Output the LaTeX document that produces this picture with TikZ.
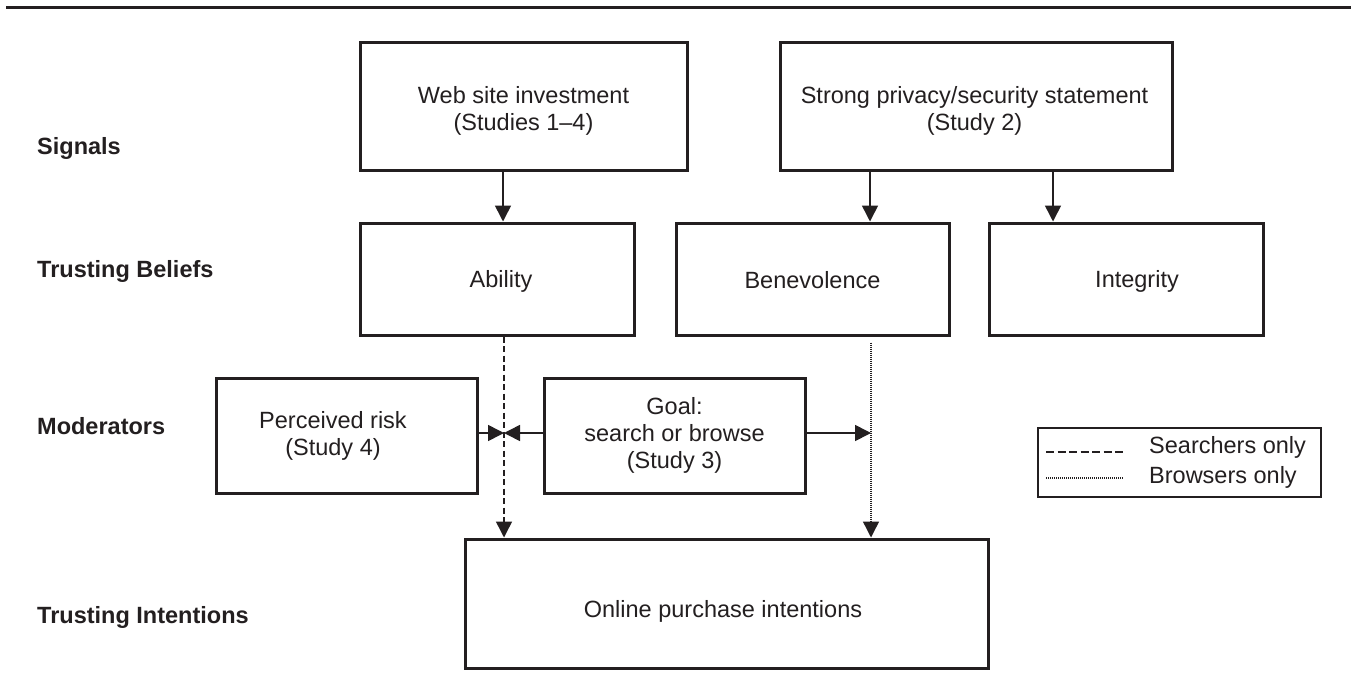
\documentclass[tikz,border=0pt]{standalone}
\usepackage{fontspec}
\setmainfont{Liberation Sans}
\usetikzlibrary{arrows.meta}
\definecolor{ink}{RGB}{35,31,32}
\begin{document}
\begin{tikzpicture}[x=1pt,y=-1pt,
  every node/.style={text=ink, font=\fontsize{23.5}{27}\selectfont},
  box/.style={draw=ink, line width=3pt, rectangle, inner sep=0pt, align=center},
  lab/.style={font=\fontsize{23.5}{27}\selectfont\bfseries, anchor=base west, inner sep=0pt},
  legtext/.style={anchor=base west, inner sep=0pt},
  arr/.style={draw=ink, line width=1.6pt, -{Triangle[length=16pt,width=16pt]}},
  searchline/.style={line width=1.5pt, dash pattern=on 6pt off 3.5pt},
  browseline/.style={line width=1.4pt, dash pattern=on 1pt off 1pt}
]
\useasboundingbox (0,0) rectangle (1351,696);
\fill[white] (0,0) rectangle (1351,696);

% top rule
\draw[draw=ink, line width=3pt] (6,7) -- (1351,7);

% row labels
\node[lab] (lsig) at (37,154) {Signals};
\node[lab] (lbel) at (37,277) {Trusting Beliefs};
\node[lab] (lmod) at (37,434) {Moderators};
\node[lab] (lint) at (37,623) {Trusting Intentions};

% boxes
\node[box, minimum width=327pt, minimum height=128pt,
  label={[align=center, yshift=-5pt]center:Web site investment\\(Studies 1–4)}] (web) at (523.5,106) {};
\node[box, minimum width=392pt, minimum height=128pt,
  label={[align=center, yshift=-5pt, xshift=-1.5pt]center:Strong privacy/security statement\\(Study 2)}] (strong) at (976,106) {};
\node[box, minimum width=274pt, minimum height=112pt,
  label={[xshift=4pt, yshift=-2pt]center:Ability}] (ability) at (497,279) {};
\node[box, minimum width=273pt, minimum height=112pt,
  label={[yshift=-1pt]center:Benevolence}] (bene) at (812.5,279) {};
\node[box, minimum width=274pt, minimum height=112pt,
  label={[xshift=11pt, yshift=-2pt]center:Integrity}] (integ) at (1126,279) {};
\node[box, minimum width=261pt, minimum height=115pt,
  label={[xshift=-13.5pt, align=center]center:Perceived risk\\(Study 4)}] (risk) at (346.5,435.5) {};
\node[box, minimum width=261pt, minimum height=115pt] (goal) at (674.5,435.5)
  {Goal:\\search or browse\\(Study 3)};
\node[box, minimum width=523pt, minimum height=129pt,
  label={[xshift=-3.5pt, yshift=-8pt]center:Online purchase intentions}] (online) at (726.5,603.5) {};

% legend
\node[draw=ink, line width=2pt, rectangle, minimum width=283pt, minimum height=69pt, inner sep=0pt] (legend) at (1179.5,462.5) {};
\draw[draw=ink, line width=1.5pt, dash pattern=on 8pt off 3.5pt] (1046,452) -- (1123,452);
\draw[draw=ink, browseline] (1046,478) -- (1123,478);
\node[legtext] (lsearch) at (1149,453) {Searchers only};
\node[legtext] (lbrowse) at (1149,483) {Browsers only};

% connector positions
\coordinate (xa) at (503,0);
\coordinate (xb) at (870,0);
\coordinate (xc) at (1053,0);
\coordinate (xd) at (504,0);
\coordinate (xe) at (871,0);
\coordinate (jd) at (504,433);
\coordinate (je) at (871,433);

% signal arrows
\draw[arr] (web.south -| xa) -- (ability.north -| xa);
\draw[arr] (strong.south -| xb) -- (bene.north -| xb);
\draw[arr] (strong.south -| xc) -- (integ.north -| xc);

% belief -> intention
\draw[arr, searchline] (ability.south -| xd) -- (online.north -| xd);
\draw[arr, browseline, shorten <=6pt] (bene.south -| xe) -- (online.north -| xe);

% moderators
\draw[arr] (risk.east |- jd) -- (jd);
\draw[arr] (goal.west |- jd) -- (jd);
\draw[arr] (goal.east |- je) -- (je);
\end{tikzpicture}
\end{document}
